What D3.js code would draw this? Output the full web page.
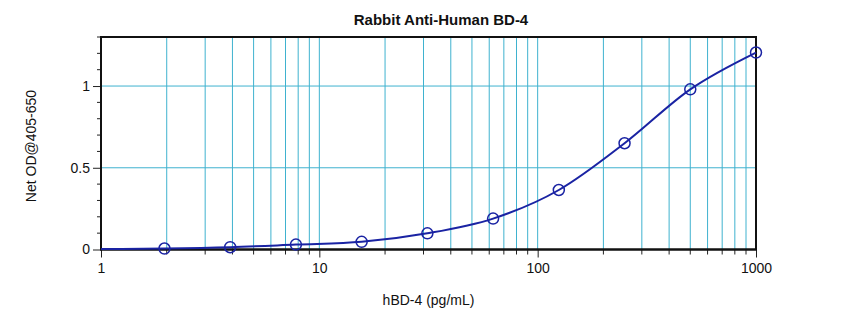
<!DOCTYPE html>
<html>
<head>
<meta charset="utf-8">
<script src="https://cdnjs.cloudflare.com/ajax/libs/d3/7.8.5/d3.min.js"></script>
<style>
  html, body { margin: 0; padding: 0; background: #fff; }
  svg { display: block; }
  text { font-family: "Liberation Sans", Arial, sans-serif; fill: #111; }
</style>
</head>
<body>
<svg id="chart" width="850" height="323"></svg>
<script>
// ---- data ----
const chartTitle = "Rabbit Anti-Human BD-4";
const xLabel = "hBD-4 (pg/mL)";
const yLabel = "Net OD@405-650";
const concentration = [1.953, 3.906, 7.8125, 15.625, 31.25, 62.5, 125, 250, 500, 1000];
const netOD = [0.006, 0.014, 0.030, 0.047, 0.099, 0.189, 0.364, 0.650, 0.980, 1.205];
// fitted curve start (read at x = 1)
const curveStartConc = [1];
const curveStartOD = [0.003];
const xTickValues = [1, 10, 100, 1000];
const yTickValues = [0, 0.5, 1];
const yDomain = [0, 1.3];
const xDomain = [1, 1000];

// ---- layout ----
const svg = d3.select("#chart");
const pLeft = 101, pRight = 756, pTop = 37, pBottom = 249.5;
const x = d3.scaleLog().domain(xDomain).range([pLeft, pRight]);
const y = d3.scaleLinear().domain(yDomain).range([pBottom, pTop]);

const gridColor = "#3fb2cf";
const curveColor = "#1a23a3";

// minor log ticks
const minorX = [];
[1, 10, 100].forEach(d => { for (let k = 2; k <= 9; k++) minorX.push(d * k); });

// vertical gridlines
svg.append("g").selectAll("line").data(minorX.concat([10, 100]))
  .join("line")
  .attr("x1", d => x(d)).attr("x2", d => x(d))
  .attr("y1", y(yDomain[1])).attr("y2", y(0))
  .attr("stroke", gridColor).attr("stroke-width", 1);

// horizontal gridlines
svg.append("g").selectAll("line").data(yTickValues.filter(d => d > 0))
  .join("line")
  .attr("x1", pLeft).attr("x2", pRight)
  .attr("y1", d => y(d)).attr("y2", d => y(d))
  .attr("stroke", gridColor).attr("stroke-width", 1);

// y axis
const yMinor = d3.range(0, 13.01, 1).map(v => v / 10);
const yAxis = svg.append("g").attr("transform", `translate(${pLeft},0)`);
yAxis.selectAll("line.minor").data(yMinor.filter(v => !yTickValues.some(t => Math.abs(t - v) < 1e-9)))
  .join("line").attr("class", "minor")
  .attr("x1", -4).attr("x2", 0)
  .attr("y1", d => y(d)).attr("y2", d => y(d))
  .attr("stroke", "#222").attr("stroke-width", 1);
yAxis.call(d3.axisLeft(y).tickValues(yTickValues).tickSize(8).tickPadding(3)
  .tickFormat(d3.format("~g")))
  .call(g => g.select(".domain").remove())
  .call(g => g.selectAll(".tick line").attr("stroke", "#222"))
  .call(g => g.selectAll(".tick text").attr("font-size", "14px")
     .attr("font-family", "Liberation Sans, Arial, sans-serif").attr("fill", "#111"));

// x axis
const xAxis = svg.append("g").attr("transform", `translate(0,${pBottom})`);
xAxis.selectAll("line.minor").data(minorX)
  .join("line").attr("class", "minor")
  .attr("x1", d => x(d)).attr("x2", d => x(d))
  .attr("y1", 0).attr("y2", 5)
  .attr("stroke", "#222").attr("stroke-width", 1);
xAxis.call(d3.axisBottom(x).tickValues(xTickValues).tickSize(8).tickPadding(6)
  .tickFormat(d3.format("d")))
  .call(g => g.select(".domain").remove())
  .call(g => g.selectAll(".tick line").attr("stroke", "#222"))
  .call(g => g.selectAll(".tick text").attr("font-size", "14px")
     .attr("font-family", "Liberation Sans, Arial, sans-serif").attr("fill", "#111"));

// frame
svg.append("path")
  .attr("d", `M${pLeft},${pBottom}V${pTop}H${pRight}V${pBottom}`)
  .attr("fill", "none").attr("stroke", "#111").attr("stroke-width", 2);
svg.append("line")
  .attr("x1", pLeft - 1).attr("x2", pRight + 1)
  .attr("y1", pBottom).attr("y2", pBottom)
  .attr("stroke", "#111").attr("stroke-width", 2.5);

// curve
const points = concentration.map((c, i) => ({ c, v: netOD[i] }));
const curvePts = curveStartConc.map((c, i) => ({ c, v: curveStartOD[i] })).concat(points);
svg.append("path")
  .datum(curvePts)
  .attr("d", d3.line().x(d => x(d.c)).y(d => y(d.v)).curve(d3.curveMonotoneX))
  .attr("fill", "none").attr("stroke", curveColor).attr("stroke-width", 2);

// points
svg.append("g").selectAll("circle").data(points)
  .join("circle")
  .attr("cx", d => x(d.c)).attr("cy", d => y(d.v)).attr("r", 5.5)
  .attr("fill", "none").attr("stroke", curveColor).attr("stroke-width", 1.5);

// labels
svg.append("text").attr("x", 441).attr("y", 25).attr("text-anchor", "middle")
  .attr("font-size", "15px").attr("font-weight", "bold").text(chartTitle);
svg.append("text").attr("x", (pLeft + pRight) / 2).attr("y", 305).attr("text-anchor", "middle")
  .attr("font-size", "14px").text(xLabel);
svg.append("text").attr("transform", `translate(36,146) rotate(-90)`).attr("text-anchor", "middle")
  .attr("font-size", "14px").text(yLabel);
</script>
</body>
</html>
